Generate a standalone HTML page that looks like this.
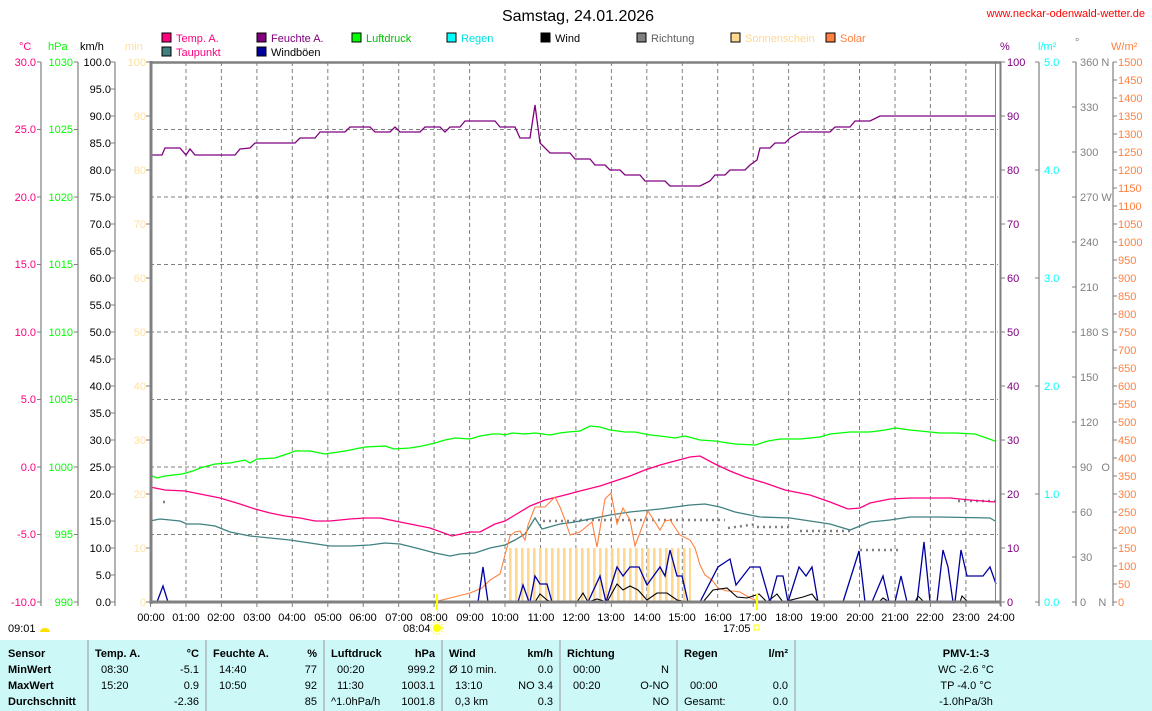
<!DOCTYPE html>
<html><head><meta charset="utf-8"><style>
body{margin:0;background:#fff;width:1152px;height:711px;overflow:hidden}
svg{display:block;font-family:"Liberation Sans",sans-serif;font-size:12px}
.b{font-weight:bold}
</style></head><body>
<svg width="1152" height="711" viewBox="0 0 1152 711">
<defs>
<pattern id="sun" x="509" y="0" width="6" height="10" patternUnits="userSpaceOnUse"><rect x="0" y="0" width="2.6" height="10" fill="#ffd890"/></pattern>
</defs>
<text x="578" y="21" text-anchor="middle" font-size="16">Samstag, 24.01.2026</text>
<text x="1145" y="17" text-anchor="end" font-size="11" fill="#ff0000">www.neckar-odenwald-wetter.de</text>
<!-- legend -->
<g font-size="11">
<rect x="162" y="33" width="9" height="9" fill="#ff0080" stroke="#000" stroke-width="1"/><text x="176" y="42" fill="#ff0080">Temp. A.</text>
<rect x="162" y="47" width="9" height="9" fill="#408080" stroke="#000"/><text x="176" y="56" fill="#ff0080">Taupunkt</text>
<rect x="257" y="33" width="9" height="9" fill="#800080" stroke="#000"/><text x="271" y="42" fill="#800080">Feuchte A.</text>
<rect x="257" y="47" width="9" height="9" fill="#0000a0" stroke="#000"/><text x="271" y="56" fill="#000">Windböen</text>
<rect x="352" y="33" width="9" height="9" fill="#00ff00" stroke="#000"/><text x="366" y="42" fill="#00c000">Luftdruck</text>
<rect x="447" y="33" width="9" height="9" fill="#00ffff" stroke="#000"/><text x="461" y="42" fill="#00e0e0">Regen</text>
<rect x="541" y="33" width="9" height="9" fill="#000" stroke="#000"/><text x="555" y="42">Wind</text>
<rect x="637" y="33" width="9" height="9" fill="#808080" stroke="#000"/><text x="651" y="42" fill="#606060">Richtung</text>
<rect x="731" y="33" width="9" height="9" fill="#ffd890" stroke="#000"/><text x="745" y="42" fill="#ffd890">Sonnenschein</text>
<rect x="826" y="33" width="9" height="9" fill="#ff8040" stroke="#000"/><text x="840" y="42" fill="#ff8040">Solar</text>
</g>
<!-- axis units -->
<g font-size="11">
<text x="19" y="50" fill="#ff0080">°C</text>
<text x="48" y="50" fill="#00ff00">hPa</text>
<text x="80" y="50">km/h</text>
<text x="125" y="50" fill="#ffe0a0">min</text>
<text x="1000" y="50" fill="#800080">%</text>
<text x="1038" y="50" fill="#00ffff">l/m²</text>
<text x="1075" y="46" fill="#808080">°</text>
<text x="1111" y="50" fill="#ff8040">W/m²</text>
</g>
<!-- axis lines -->
<g stroke="#808080" stroke-width="1.2">
<line x1="41" y1="62" x2="41" y2="606"/><line x1="78" y1="62" x2="78" y2="606"/><line x1="115" y1="62" x2="115" y2="606"/>
<line x1="1039" y1="62" x2="1039" y2="606"/><line x1="1076" y1="62" x2="1076" y2="606"/><line x1="1113" y1="62" x2="1113" y2="606"/>
</g>
<!-- grid -->
<g stroke="#808080" stroke-dasharray="4,3" stroke-width="1">
<line x1="150" y1="129.5" x2="998" y2="129.5"/><line x1="150" y1="197" x2="998" y2="197"/><line x1="150" y1="264.5" x2="998" y2="264.5"/><line x1="150" y1="332" x2="998" y2="332"/><line x1="150" y1="399.5" x2="998" y2="399.5"/><line x1="150" y1="467" x2="998" y2="467"/><line x1="150" y1="534.5" x2="998" y2="534.5"/>
<line x1="186" y1="62" x2="186" y2="602"/><line x1="221.4" y1="62" x2="221.4" y2="602"/><line x1="256.9" y1="62" x2="256.9" y2="602"/><line x1="292.3" y1="62" x2="292.3" y2="602"/><line x1="327.8" y1="62" x2="327.8" y2="602"/><line x1="363.2" y1="62" x2="363.2" y2="602"/><line x1="398.7" y1="62" x2="398.7" y2="602"/><line x1="434.1" y1="62" x2="434.1" y2="602"/><line x1="469.6" y1="62" x2="469.6" y2="602"/><line x1="505" y1="62" x2="505" y2="602"/><line x1="540.5" y1="62" x2="540.5" y2="602"/><line x1="575.9" y1="62" x2="575.9" y2="602"/><line x1="611.4" y1="62" x2="611.4" y2="602"/><line x1="646.8" y1="62" x2="646.8" y2="602"/><line x1="682.3" y1="62" x2="682.3" y2="602"/><line x1="717.7" y1="62" x2="717.7" y2="602"/><line x1="753.2" y1="62" x2="753.2" y2="602"/><line x1="788.6" y1="62" x2="788.6" y2="602"/><line x1="824.1" y1="62" x2="824.1" y2="602"/><line x1="859.5" y1="62" x2="859.5" y2="602"/><line x1="895" y1="62" x2="895" y2="602"/><line x1="930.4" y1="62" x2="930.4" y2="602"/><line x1="965.9" y1="62" x2="965.9" y2="602"/>
</g>
<!-- sunshine -->
<rect x="509" y="548" width="182" height="54" fill="url(#sun)"/>
<!-- direction dots -->
<g stroke="#808080" stroke-width="2.5" stroke-dasharray="2,4" fill="none">
<line x1="163" y1="502" x2="165" y2="502"/>
<line x1="543" y1="521" x2="580" y2="521"/><line x1="580" y1="520" x2="725" y2="520"/>
<line x1="728" y1="528" x2="757" y2="524"/><line x1="757" y1="527" x2="790" y2="527"/>
<line x1="800" y1="531" x2="853" y2="531"/><line x1="860" y1="550" x2="902" y2="550"/>
<line x1="958" y1="501" x2="995" y2="501"/>
</g>
<!-- series -->
<g fill="none" stroke-width="1.3">
<polyline stroke="#00ff00" points="150,475 157,478 165,476 182,474 193,471 200,468 215,464 230,463 245,460 250,463 257,459 275,458 290,453 295,451 310,451 325,454 345,451 365,447 385,446 394,449 410,448 422,446 435,443 445,440 455,438 470,439 480,436 492,434 500,434 505,435 512,433 525,434 535,433 550,435 560,433 568,432 580,431 590,426 600,427 610,430 625,432 635,432 650,435 660,436 675,438 685,436 700,440 715,441 735,444 755,445 768,441 780,439 800,439 820,437 830,434 840,433 850,432 870,432 885,430 895,428 910,430 930,432 940,433 955,433 975,434 995,441"/>
<polyline stroke="#ff0080" points="150,487 165,490 185,491 200,494 220,498 240,504 255,509 270,513 285,516 300,518 315,521 330,521 350,519 365,518 380,518 395,521 410,524 430,528 452,536 470,532 480,532 495,524 505,521 515,515 530,506 545,500 565,495 580,491 600,486 615,481 630,476 645,470 660,465 675,461 690,457 700,456 715,464 730,471 745,477 765,483 785,490 810,495 830,502 848,509 860,508 870,503 890,499 910,498 950,498 970,500 995,502"/>
<polyline stroke="#408080" points="150,521 160,519 180,521 187,524 200,524 215,526 230,532 250,536 270,538 290,540 310,543 330,546 350,546 370,545 385,543 400,544 420,549 435,553 450,556 460,554 475,553 490,548 505,545 515,540 525,534 535,518 542,529 560,524 575,522 590,519 610,515 630,512 660,509 675,507 690,505 705,504 720,507 735,512 760,517 790,518 810,521 830,524 850,530 870,522 890,520 910,517 940,517 990,518 995,521"/>
<polyline stroke="#800080" points="150,155 162,155 165,148 180,148 186,155 190,149 195,155 235,155 240,149 250,148 255,143 295,143 300,138 315,138 320,132 345,132 350,127 370,127 375,132 390,132 395,127 400,132 420,132 425,127 440,127 445,132 450,127 460,127 465,121 495,121 500,127 515,127 520,138 530,138 535,105 540,143 550,153 570,153 575,159 590,159 595,165 605,165 610,170 620,170 625,175 640,175 645,181 665,181 670,186 700,186 710,181 715,175 725,175 730,170 745,170 750,165 757,160 760,148 770,148 775,143 785,143 790,138 800,132 830,132 835,127 850,127 855,121 870,121 880,116 995,116"/>
<polyline stroke="#ff8040" stroke-width="1.1" points="438,601 470,593 482,588 490,580 500,574 505,555 510,536 515,532 520,531 525,540 528,525 535,507 545,507 555,497 560,507 565,520 570,535 580,532 592,522 597,547 605,499 611,493 617,524 623,508 630,520 635,546 648,511 660,530 665,521 670,520 680,535 690,540 695,548 700,565 705,575 712,580 718,588 727,591 733,591 740,592 750,598 755,600"/>
<polyline stroke="#000" stroke-width="1.1" points="530,602 535,602 540,594 547,600 552,602 577,602 583,593 588,602 597,599 607,602 617,584 623,590 630,586 638,590 647,600 657,593 667,593 677,600 688,602 703,602 713,590 727,588 737,597 747,598 759,594 767,602 777,594 783,602 803,597 812,594 818,602 860,601 880,601 883,598 889,602 915,602 918,596 924,602 960,602 962,596 968,602"/>
<polyline stroke="#0000a0" stroke-width="1.3" points="157,602 163,586 168,602"/>
<polyline stroke="#0000a0" stroke-width="1.3" points="478,602 483,567 488,602"/>
<polyline stroke="#0000a0" stroke-width="1.3" points="518,602 523,585 529,602 530,602 535,576 540,584 547,584 552,602 572,602"/>
<polyline stroke="#0000a0" stroke-width="1.3" points="588,602 600,576 606,602 617,567 623,576 630,567 639,567 647,585 660,567 665,576 670,550 677,576 682,576 688,602 700,602 718,567 730,559 736,585 750,567 760,567 770,602 777,576 783,576 788,602 799,567 806,576 812,567 818,602"/>
<polyline stroke="#0000a0" stroke-width="1.3" points="843,602 859,551 865,602 872,602 883,576 889,602 895,602 901,576 907,602 917,602 924,542 930,602 937,602 943,550 948,567 953,602 955,602 961,550 967,576 983,576 990,567 996,584"/>
</g>
<!-- frame -->
<g stroke="#808080" fill="none">
<line x1="151" y1="61" x2="151" y2="604" stroke-width="3"/>
<line x1="150" y1="62.5" x2="1001" y2="62.5" stroke-width="2.5"/>
<line x1="150" y1="602" x2="1001" y2="602" stroke-width="3"/>
<line x1="995.5" y1="62" x2="995.5" y2="602" stroke-width="1"/>
<line x1="1000.5" y1="62" x2="1000.5" y2="606" stroke-width="2"/>
</g>
<!-- hour ticks -->
<g stroke="#808080"><path d="M150.5 602v5M186 602v5M221.4 602v5M256.9 602v5M292.3 602v5M327.8 602v5M363.2 602v5M398.7 602v5M434.1 602v5M469.6 602v5M505 602v5M540.5 602v5M575.9 602v5M611.4 602v5M646.8 602v5M682.3 602v5M717.7 602v5M753.2 602v5M788.6 602v5M824.1 602v5M859.5 602v5M895 602v5M930.4 602v5M965.9 602v5M1001 602v5"/></g>
<line x1="437" y1="594" x2="437" y2="610" stroke="#ffff00" stroke-width="2"/>
<line x1="757" y1="594" x2="757" y2="610" stroke="#ffff00" stroke-width="2"/>
<g text-anchor="middle" font-size="11">
<text x="151" y="621">00:00</text><text x="186" y="621">01:00</text><text x="221" y="621">02:00</text><text x="257" y="621">03:00</text><text x="292" y="621">04:00</text><text x="328" y="621">05:00</text><text x="363" y="621">06:00</text><text x="399" y="621">07:00</text><text x="434" y="621">08:00</text><text x="470" y="621">09:00</text><text x="505" y="621">10:00</text><text x="541" y="621">11:00</text><text x="576" y="621">12:00</text><text x="611" y="621">13:00</text><text x="647" y="621">14:00</text><text x="682" y="621">15:00</text><text x="718" y="621">16:00</text><text x="753" y="621">17:00</text><text x="789" y="621">18:00</text><text x="824" y="621">19:00</text><text x="860" y="621">20:00</text><text x="895" y="621">21:00</text><text x="930" y="621">22:00</text><text x="966" y="621">23:00</text><text x="1001" y="621">24:00</text>
</g>
<g font-size="11"><text x="8" y="632">09:01</text><text x="403" y="632">08:04</text><text x="723" y="632">17:05</text></g>
<path d="M40 632a5 4 0 0 1 10 0z" fill="#ffe000"/>
<circle cx="437" cy="628" r="4" fill="#ffff00"/><circle cx="437" cy="628" r="6" fill="none" stroke="#ffff00" stroke-dasharray="1.5,1.5"/>
<rect x="754" y="625" width="5" height="5" fill="none" stroke="#ffff00"/>
<!-- left axis labels -->
<g font-size="11" text-anchor="end" fill="#ff0080">
<text x="36" y="66">30.0</text><text x="36" y="133">25.0</text><text x="36" y="201">20.0</text><text x="36" y="268">15.0</text><text x="36" y="336">10.0</text><text x="36" y="403">5.0</text><text x="36" y="471">0.0</text><text x="36" y="538">-5.0</text><text x="36" y="606">-10.0</text>
</g>
<g stroke="#808080"><path d="M37 62h4M37 129.5h4M37 197h4M37 264.5h4M37 332h4M37 399.5h4M37 467h4M37 534.5h4M37 602h4M74 62h4M74 129.5h4M74 197h4M74 264.5h4M74 332h4M74 399.5h4M74 467h4M74 534.5h4M74 602h4"/></g>
<g font-size="11" text-anchor="end" fill="#00ff00">
<text x="73" y="66">1030</text><text x="73" y="133">1025</text><text x="73" y="201">1020</text><text x="73" y="268">1015</text><text x="73" y="336">1010</text><text x="73" y="403">1005</text><text x="73" y="471">1000</text><text x="73" y="538">995</text><text x="73" y="606">990</text>
</g>
<g stroke="#808080"><path d="M111 62h4M111 89h4M111 116h4M111 143h4M111 170h4M111 197h4M111 224h4M111 251h4M111 278h4M111 305h4M111 332h4M111 359h4M111 386h4M111 413h4M111 440h4M111 467h4M111 494h4M111 521h4M111 548h4M111 575h4M111 602h4"/>
<path d="M146 62h4M146 116h4M146 170h4M146 224h4M146 278h4M146 332h4M146 386h4M146 440h4M146 494h4M146 548h4M146 602h4"/></g>
<g font-size="11" text-anchor="end">
<text x="111" y="66">100.0</text><text x="111" y="93">95.0</text><text x="111" y="120">90.0</text><text x="111" y="147">85.0</text><text x="111" y="174">80.0</text><text x="111" y="201">75.0</text><text x="111" y="228">70.0</text><text x="111" y="255">65.0</text><text x="111" y="282">60.0</text><text x="111" y="309">55.0</text><text x="111" y="336">50.0</text><text x="111" y="363">45.0</text><text x="111" y="390">40.0</text><text x="111" y="417">35.0</text><text x="111" y="444">30.0</text><text x="111" y="471">25.0</text><text x="111" y="498">20.0</text><text x="111" y="525">15.0</text><text x="111" y="552">10.0</text><text x="111" y="579">5.0</text><text x="111" y="606">0.0</text>
</g>
<g font-size="11" text-anchor="end" fill="#ffe0a0">
<text x="146" y="66">100</text><text x="146" y="120">90</text><text x="146" y="174">80</text><text x="146" y="228">70</text><text x="146" y="282">60</text><text x="146" y="336">50</text><text x="146" y="390">40</text><text x="146" y="444">30</text><text x="146" y="498">20</text><text x="146" y="552">10</text><text x="146" y="606">0</text>
</g>
<!-- right axis labels -->
<g stroke="#808080"><path d="M1001 62h4M1001 116h4M1001 170h4M1001 224h4M1001 278h4M1001 332h4M1001 386h4M1001 440h4M1001 494h4M1001 548h4M1001 602h4M1035 62h4M1035 170h4M1035 278h4M1035 386h4M1035 494h4M1035 602h4M1072 62h4M1072 107h4M1072 152h4M1072 197h4M1072 242h4M1072 287h4M1072 332h4M1072 377h4M1072 422h4M1072 467h4M1072 512h4M1072 557h4M1072 602h4"/>
<path d="M1113 62h4M1113 80h4M1113 98h4M1113 116h4M1113 134h4M1113 152h4M1113 170h4M1113 188h4M1113 206h4M1113 224h4M1113 242h4M1113 260h4M1113 278h4M1113 296h4M1113 314h4M1113 332h4M1113 350h4M1113 368h4M1113 386h4M1113 404h4M1113 422h4M1113 440h4M1113 458h4M1113 476h4M1113 494h4M1113 512h4M1113 530h4M1113 548h4M1113 566h4M1113 584h4M1113 602h4"/></g>
<g font-size="11" fill="#800080">
<text x="1007" y="66">100</text><text x="1007" y="120">90</text><text x="1007" y="174">80</text><text x="1007" y="228">70</text><text x="1007" y="282">60</text><text x="1007" y="336">50</text><text x="1007" y="390">40</text><text x="1007" y="444">30</text><text x="1007" y="498">20</text><text x="1007" y="552">10</text><text x="1007" y="606">0</text>
</g>
<g font-size="11" fill="#00ffff">
<text x="1044" y="66">5.0</text><text x="1044" y="174">4.0</text><text x="1044" y="282">3.0</text><text x="1044" y="390">2.0</text><text x="1044" y="498">1.0</text><text x="1044" y="606">0.0</text>
</g>
<g font-size="11" fill="#808080">
<text x="1080" y="66">360 N</text><text x="1080" y="111">330</text><text x="1080" y="156">300</text><text x="1080" y="201">270 W</text><text x="1080" y="246">240</text><text x="1080" y="291">210</text><text x="1080" y="336">180 S</text><text x="1080" y="381">150</text><text x="1080" y="426">120</text><text x="1080" y="471">90&#160;&#160;&#160;O</text><text x="1080" y="516">60</text><text x="1080" y="561">30</text><text x="1080" y="606">0&#160;&#160;&#160;&#160;N</text>
</g>
<g font-size="11" fill="#ff8040">
<text x="1118" y="66">1500</text><text x="1118" y="84">1450</text><text x="1118" y="102">1400</text><text x="1118" y="120">1350</text><text x="1118" y="138">1300</text><text x="1118" y="156">1250</text><text x="1118" y="174">1200</text><text x="1118" y="192">1150</text><text x="1118" y="210">1100</text><text x="1118" y="228">1050</text><text x="1118" y="246">1000</text><text x="1118" y="264">950</text><text x="1118" y="282">900</text><text x="1118" y="300">850</text><text x="1118" y="318">800</text><text x="1118" y="336">750</text><text x="1118" y="354">700</text><text x="1118" y="372">650</text><text x="1118" y="390">600</text><text x="1118" y="408">550</text><text x="1118" y="426">500</text><text x="1118" y="444">450</text><text x="1118" y="462">400</text><text x="1118" y="480">350</text><text x="1118" y="498">300</text><text x="1118" y="516">250</text><text x="1118" y="534">200</text><text x="1118" y="552">150</text><text x="1118" y="570">100</text><text x="1118" y="588">50</text><text x="1118" y="606">0</text>
</g>
<!-- table -->
<rect x="0" y="640" width="1152" height="71" fill="#ccf8f8"/>
<g stroke="#999" stroke-width="1"><path d="M88 640v71M206 640v71M324 640v71M442 640v71M560 640v71M677 640v71M795 640v71"/></g>
<g font-size="11">
<g class="b"><text x="8" y="657">Sensor</text><text x="8" y="673">MinWert</text><text x="8" y="689">MaxWert</text><text x="8" y="705">Durchschnitt</text>
<text x="95" y="657">Temp. A.</text><text x="199" y="657" text-anchor="end">°C</text>
<text x="213" y="657">Feuchte A.</text><text x="317" y="657" text-anchor="end">%</text>
<text x="331" y="657">Luftdruck</text><text x="435" y="657" text-anchor="end">hPa</text>
<text x="449" y="657">Wind</text><text x="553" y="657" text-anchor="end">km/h</text>
<text x="567" y="657">Richtung</text>
<text x="684" y="657">Regen</text><text x="788" y="657" text-anchor="end">l/m²</text>
<text x="966" y="657" text-anchor="middle">PMV-1:-3</text></g>
<text x="101" y="673">08:30</text><text x="199" y="673" text-anchor="end">-5.1</text>
<text x="101" y="689">15:20</text><text x="199" y="689" text-anchor="end">0.9</text>
<text x="199" y="705" text-anchor="end">-2.36</text>
<text x="219" y="673">14:40</text><text x="317" y="673" text-anchor="end">77</text>
<text x="219" y="689">10:50</text><text x="317" y="689" text-anchor="end">92</text>
<text x="317" y="705" text-anchor="end">85</text>
<text x="337" y="673">00:20</text><text x="435" y="673" text-anchor="end">999.2</text>
<text x="337" y="689">11:30</text><text x="435" y="689" text-anchor="end">1003.1</text>
<text x="331" y="705">^1.0hPa/h</text><text x="435" y="705" text-anchor="end">1001.8</text>
<text x="449" y="673">Ø 10 min.</text><text x="553" y="673" text-anchor="end">0.0</text>
<text x="455" y="689">13:10</text><text x="553" y="689" text-anchor="end">NO 3.4</text>
<text x="455" y="705">0,3 km</text><text x="553" y="705" text-anchor="end">0.3</text>
<text x="573" y="673">00:00</text><text x="669" y="673" text-anchor="end">N</text>
<text x="573" y="689">00:20</text><text x="669" y="689" text-anchor="end">O-NO</text>
<text x="669" y="705" text-anchor="end">NO</text>
<text x="690" y="689">00:00</text><text x="788" y="689" text-anchor="end">0.0</text>
<text x="684" y="705">Gesamt:</text><text x="788" y="705" text-anchor="end">0.0</text>
<text x="966" y="673" text-anchor="middle">WC -2.6 °C</text>
<text x="966" y="689" text-anchor="middle">TP -4.0 °C</text>
<text x="966" y="705" text-anchor="middle">-1.0hPa/3h</text>
</g>
</svg>
</body></html>
